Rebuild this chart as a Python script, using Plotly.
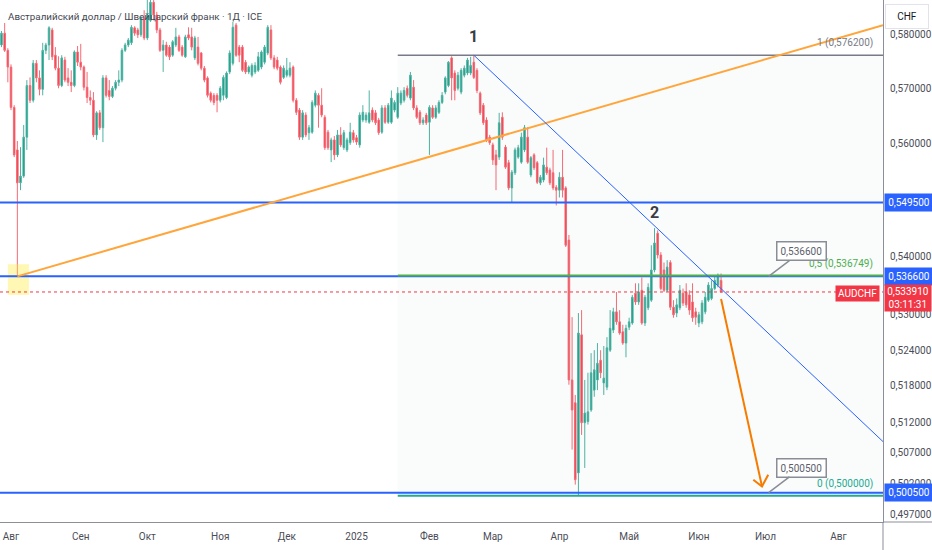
import math
import pandas as pd
import plotly.graph_objects as go

# ---------------- data (daily AUDCHF candles) ----------------
start_date = "2024-07-29"

opens = [
    .5781, .5803, .5771, .5740, .5666, .5589, .5530, .5542, .5612, .5706,
    .5679, .5747, .5720, .5699, .5771, .5781, .5809, .5762, .5738, .5706,
    .5753, .5720, .5712, .5706, .5768, .5749, .5740, .5703, .5684, .5679,
    .5616, .5656, .5629, .5720, .5697, .5686, .5701, .5712, .5716, .5771,
    .5781, .5785, .5813, .5809, .5800, .5831, .5794, .5827, .5861, .5837,
    .5809, .5771, .5781, .5777, .5762, .5781, .5796, .5777, .5759, .5800,
    .5796, .5757, .5777, .5766, .5738, .5720, .5692, .5688, .5688, .5679,
    .5688, .5684, .5731, .5747, .5818, .5777, .5777, .5749, .5731, .5725,
    .5731, .5734, .5740, .5749, .5766, .5809, .5757, .5753, .5740, .5721,
    .5725, .5725, .5740, .5679, .5661, .5612, .5652, .5620, .5621, .5670,
    .5688, .5670, .5648, .5621, .5589, .5607, .5580, .5616, .5593, .5589,
    .5602, .5620, .5611, .5598, .5643, .5643, .5639, .5661, .5656, .5643,
    .5621, .5665, .5639, .5639, .5661, .5648, .5674, .5679, .5701, .5683,
    .5703, .5665, .5657, .5638, .5652, .5639, .5665, .5648, .5657, .5675,
    .5694, .5706, .5757, .5729, .5701, .5694, .5725, .5729, .5729, .5749,
    .5734, .5692, .5670, .5643, .5612, .5598, .5580, .5576, .5648, .5594,
    .5566, .5521, .5548, .5576, .5567, .5589, .5612, .5544, .5580, .5566,
    .5530, .5535, .5558, .5553, .5548, .5522, .5517, .5540, .5521, .5429,
    .5190, .5152, .5037, .5266, .5119, .5121, .5140, .5173, .5190, .5223,
    .5185, .5178, .5240, .5274, .5305, .5288, .5271, .5252, .5279, .5286,
    .5337, .5322, .5342, .5286, .5312, .5325, .5377, .5441, .5403, .5377,
    .5342, .5390, .5313, .5303, .5312, .5337, .5339, .5334, .5322, .5305,
    .5286, .5288, .5305, .5325, .5328, .5345, .5351, .5359,
]

highs = [
    .5807, .5822, .5775, .5745, .5670, .5605, .5594, .5634, .5716, .5721,
    .5753, .5753, .5734, .5785, .5785, .5816, .5813, .5777, .5760, .5762,
    .5759, .5738, .5734, .5771, .5779, .5783, .5743, .5731, .5697, .5694,
    .5659, .5661, .5725, .5725, .5716, .5705, .5716, .5734, .5775, .5785,
    .5794, .5818, .5816, .5813, .5835, .5846, .5874, .5880, .5876, .5843,
    .5813, .5790, .5787, .5781, .5790, .5813, .5800, .5781, .5800, .5814,
    .5813, .5798, .5796, .5768, .5742, .5723, .5695, .5692, .5692, .5705,
    .5725, .5732, .5771, .5824, .5822, .5781, .5781, .5753, .5743, .5747,
    .5749, .5768, .5771, .5781, .5818, .5818, .5762, .5759, .5743, .5743,
    .5757, .5749, .5743, .5683, .5665, .5661, .5657, .5634, .5679, .5697,
    .5692, .5701, .5652, .5625, .5611, .5614, .5625, .5630, .5625, .5611,
    .5638, .5625, .5616, .5657, .5670, .5657, .5697, .5666, .5661, .5647,
    .5670, .5670, .5674, .5697, .5679, .5703, .5697, .5703, .5706, .5731,
    .5716, .5670, .5661, .5648, .5656, .5670, .5670, .5670, .5679, .5694,
    .5723, .5751, .5760, .5734, .5731, .5738, .5743, .5757, .5759, .5762,
    .5738, .5695, .5674, .5648, .5616, .5602, .5589, .5656, .5657, .5598,
    .5571, .5553, .5593, .5598, .5620, .5634, .5630, .5578, .5583, .5569,
    .5544, .5575, .5593, .5557, .5589, .5526, .5549, .5589, .5524, .5438,
    .5296, .5165, .5303, .5308, .5190, .5202, .5235, .5240, .5252, .5240,
    .5247, .5262, .5308, .5312, .5339, .5308, .5283, .5283, .5295, .5334,
    .5354, .5354, .5364, .5334, .5354, .5420, .5450, .5446, .5408, .5390,
    .5394, .5394, .5325, .5328, .5351, .5345, .5354, .5342, .5354, .5312,
    .5305, .5325, .5339, .5356, .5359, .5368, .5371, .5371,
]

lows = [
    .5777, .5768, .5712, .5661, .5576, .5366, .5517, .5539, .5589, .5674,
    .5675, .5712, .5688, .5688, .5764, .5753, .5753, .5734, .5701, .5703,
    .5712, .5705, .5694, .5703, .5742, .5734, .5697, .5674, .5670, .5612,
    .5607, .5625, .5603, .5684, .5679, .5683, .5697, .5705, .5712, .5768,
    .5777, .5781, .5798, .5794, .5796, .5790, .5790, .5824, .5827, .5803,
    .5768, .5731, .5759, .5753, .5759, .5777, .5768, .5759, .5757, .5790,
    .5771, .5753, .5743, .5734, .5712, .5684, .5675, .5670, .5657, .5675,
    .5679, .5681, .5727, .5743, .5759, .5749, .5731, .5727, .5727, .5721,
    .5727, .5731, .5736, .5745, .5762, .5753, .5736, .5734, .5708, .5718,
    .5721, .5721, .5675, .5652, .5607, .5607, .5612, .5607, .5618, .5666,
    .5629, .5648, .5589, .5589, .5567, .5571, .5576, .5594, .5589, .5585,
    .5598, .5602, .5598, .5593, .5639, .5638, .5636, .5639, .5634, .5616,
    .5618, .5636, .5636, .5636, .5657, .5645, .5670, .5675, .5684, .5679,
    .5661, .5645, .5634, .5634, .5634, .5580, .5645, .5645, .5654, .5672,
    .5690, .5703, .5679, .5679, .5697, .5690, .5721, .5725, .5725, .5718,
    .5692, .5652, .5634, .5603, .5598, .5562, .5517, .5571, .5607, .5555,
    .5517, .5495, .5544, .5573, .5564, .5585, .5564, .5540, .5553, .5528,
    .5526, .5531, .5544, .5526, .5517, .5490, .5504, .5504, .5417, .5182,
    .5075, .5018, .5000, .5099, .5045, .5116, .5137, .5162, .5173, .5193,
    .5165, .5173, .5237, .5269, .5283, .5266, .5249, .5228, .5274, .5283,
    .5317, .5317, .5283, .5281, .5308, .5322, .5373, .5397, .5342, .5339,
    .5339, .5308, .5295, .5296, .5308, .5315, .5312, .5300, .5288, .5283,
    .5279, .5284, .5301, .5322, .5325, .5342, .5347, .5338,
]

closes = [
    .5803, .5771, .5740, .5666, .5580, .5530, .5542, .5612, .5706, .5679,
    .5747, .5720, .5699, .5771, .5781, .5813, .5759, .5738, .5706, .5757,
    .5716, .5712, .5706, .5768, .5749, .5740, .5703, .5684, .5679, .5616,
    .5656, .5629, .5720, .5688, .5686, .5701, .5712, .5716, .5771, .5781,
    .5790, .5814, .5803, .5800, .5831, .5794, .5837, .5861, .5837, .5809,
    .5771, .5781, .5762, .5759, .5787, .5796, .5771, .5762, .5796, .5794,
    .5777, .5794, .5747, .5738, .5716, .5688, .5679, .5675, .5679, .5701,
    .5721, .5729, .5766, .5814, .5762, .5762, .5734, .5731, .5740, .5743,
    .5743, .5759, .5768, .5777, .5814, .5757, .5740, .5738, .5712, .5738,
    .5734, .5738, .5679, .5657, .5612, .5656, .5616, .5629, .5675, .5692,
    .5670, .5652, .5593, .5593, .5607, .5580, .5616, .5598, .5620, .5607,
    .5621, .5607, .5603, .5652, .5657, .5652, .5656, .5643, .5638, .5620,
    .5665, .5639, .5670, .5683, .5675, .5692, .5692, .5697, .5688, .5725,
    .5665, .5648, .5638, .5643, .5638, .5666, .5648, .5665, .5675, .5688,
    .5720, .5749, .5720, .5697, .5725, .5734, .5738, .5753, .5743, .5721,
    .5697, .5656, .5638, .5607, .5602, .5571, .5562, .5638, .5612, .5558,
    .5521, .5549, .5589, .5593, .5612, .5629, .5567, .5575, .5557, .5531,
    .5540, .5562, .5548, .5530, .5521, .5517, .5540, .5517, .5420, .5190,
    .5140, .5026, .5269, .5119, .5135, .5137, .5202, .5207, .5218, .5202,
    .5193, .5244, .5277, .5305, .5288, .5269, .5252, .5277, .5288, .5330,
    .5322, .5339, .5286, .5330, .5347, .5377, .5424, .5403, .5345, .5342,
    .5382, .5313, .5300, .5317, .5342, .5320, .5317, .5308, .5295, .5296,
    .5300, .5320, .5330, .5351, .5345, .5359, .5368, .53391,
]

assert len(opens) == len(highs) == len(lows) == len(closes)

# x axis: month ticks
month_ticks = ["2024-08-01", "2024-09-02", "2024-10-01", "2024-11-01", "2024-12-02",
               "2025-01-01", "2025-02-03", "2025-03-03", "2025-04-01", "2025-05-01",
               "2025-06-02", "2025-07-01", "2025-08-01"]
month_labels = ["Авг", "Сен", "Окт", "Ноя", "Дек", "2025", "Фев", "Мар", "Апр",
                "Май", "Июн", "Июл", "Авг"]
x_start = "2024-07-26 12:40"
x_end = "2025-08-21 02:00"

# y axis: price ticks (0,550000 is hidden under the 0,549500 label in the reference)
price_ticks = [0.580, 0.570, 0.560, 0.540, 0.530, 0.524, 0.518, 0.512, 0.507, 0.502, 0.497]
price_tick_labels = ["0,580000", "0,570000", "0,560000", "0,540000", "0,530000",
                     "0,524000", "0,518000", "0,512000", "0,507000", "0,502000", "0,497000"]
y_low, y_high = 0.4958, 0.58653

# drawings
level_lines = [0.5495, 0.5366, 0.5005]
level_labels = ["0,549500", "0,536600", "0,500500"]
fib_levels = [0.5762, 0.536749, 0.5]
fib_labels = ["1 (0,576200)", "0,5 (0,536749)", "0 (0,500000)"]
fib_colors = ["#787b86", "#4caf50", "#22ab94"]
fib_start = "2025-01-20"
last_price = 0.53391
last_price_label = "0,533910"
countdown = "03:11:31"
symbol = "AUDCHF"
title_text = "Австралийский доллар / Швейцарский франк · 1Д · ICE"

orange_trend_x = ["2024-08-05", x_end]
orange_trend_y = [0.5366, 0.5818]
blue_trend_y = [0.5762, 0.5088]
arrow_x = ["2025-06-11", "2025-06-27 22:00"]
arrow_y = [0.5327, 0.5015]
arrowhead_x = ["2025-06-25 04:00", "2025-06-27 22:00", "2025-07-01 21:00"]
arrowhead_y = [0.5026, 0.5015, 0.5034]
highlight_x = ["2024-07-31", "2024-08-08 16:00"]
highlight_y = [0.5334, 0.5387]
callout_date = "2025-07-02"
callouts = [(0.5366, "0,536600"), (0.5005, "0,500500")]

# ---------------- figure ----------------
dates = pd.bdate_range(start_date, periods=len(closes))
FONT = "Roboto, sans-serif"
L10 = math.log10

fig = go.Figure()

# fib background
fig.add_trace(go.Scatter(
    x=[fib_start, x_end, x_end, fib_start, fib_start],
    y=[fib_levels[0], fib_levels[0], fib_levels[2], fib_levels[2], fib_levels[0]],
    mode="lines", fill="toself", fillcolor="rgba(120,140,150,0.035)",
    line=dict(width=0), hoverinfo="skip"))

fig.add_trace(go.Candlestick(
    x=dates, open=opens, high=highs, low=lows, close=closes,
    increasing=dict(line=dict(color="#4fb3a3", width=1), fillcolor="#089981"),
    decreasing=dict(line=dict(color="#f56b76", width=1), fillcolor="#f23645"),
    whiskerwidth=0, hoverinfo="skip"))

# highlight box
fig.add_trace(go.Scatter(
    x=[highlight_x[0], highlight_x[1], highlight_x[1], highlight_x[0], highlight_x[0]],
    y=[highlight_y[0], highlight_y[0], highlight_y[1], highlight_y[1], highlight_y[0]],
    mode="lines", fill="toself", fillcolor="rgba(255,235,59,0.38)",
    line=dict(width=0), hoverinfo="skip"))

# last price dotted line
fig.add_trace(go.Scatter(x=[x_start, x_end], y=[last_price, last_price], mode="lines",
                         line=dict(color="#f23645", width=1, dash="dot"), hoverinfo="skip"))

# horizontal levels
for lv in level_lines:
    fig.add_trace(go.Scatter(x=[x_start, x_end], y=[lv, lv], mode="lines",
                             line=dict(color="#2962ff", width=2), hoverinfo="skip"))

# fib lines
for lv, col in zip(fib_levels, fib_colors):
    fig.add_trace(go.Scatter(x=[fib_start, x_end], y=[lv, lv], mode="lines",
                             line=dict(color=col, width=2 if col != "#787b86" else 1.5),
                             hoverinfo="skip"))

# trend lines
fig.add_trace(go.Scatter(x=orange_trend_x, y=orange_trend_y, mode="lines",
                         line=dict(color="#ffa53a", width=2), hoverinfo="skip"))
fig.add_trace(go.Scatter(x=[dates[149], x_end], y=blue_trend_y, mode="lines",
                         line=dict(color="#2962ff", width=1), hoverinfo="skip"))

# orange arrow
fig.add_trace(go.Scatter(x=arrow_x, y=arrow_y, mode="lines",
                         line=dict(color="#f57c00", width=2), hoverinfo="skip"))
fig.add_trace(go.Scatter(x=arrowhead_x, y=arrowhead_y, mode="lines",
                         line=dict(color="#f57c00", width=2), hoverinfo="skip"))

annotations = []

# title
annotations.append(dict(xref="paper", yref="paper", x=0.0068, y=0.9693, xanchor="left",
                        yanchor="middle", text=title_text, showarrow=False,
                        font=dict(family=FONT, size=9.8, color="#434651")))
# wave labels
annotations.append(dict(x=dates[149], y=L10(highs[149]), yshift=19, text="<b>1</b>",
                        showarrow=False, font=dict(family=FONT, size=16, color="#3a3d45")))
annotations.append(dict(x=dates[206], y=L10(highs[206]), yshift=16, text="<b>2</b>",
                        showarrow=False, font=dict(family=FONT, size=16, color="#3a3d45")))
# fib labels
for lv, txt, col in zip(fib_levels, fib_labels, fib_colors):
    annotations.append(dict(xref="paper", x=875 / 883, y=L10(lv), yshift=12, xanchor="right",
                            yanchor="middle", text=txt, showarrow=False,
                            font=dict(family=FONT, size=10, color=col)))
# callouts
for lv, txt in callouts:
    annotations.append(dict(x=callout_date, y=L10(lv), ax=33, ay=-25, text=txt,
                            showarrow=True, arrowhead=0, arrowwidth=1.5, arrowcolor="#8a8d96",
                            bordercolor="#8a8d96", borderwidth=1.5, borderpad=3,
                            bgcolor="white", font=dict(family=FONT, size=10, color="#5d606b")))
# price-scale labels
for lv, txt in zip(level_lines, level_labels):
    annotations.append(dict(xref="paper", x=1, xshift=1, y=L10(lv), xanchor="left",
                            yanchor="middle", text=txt, showarrow=False, width=44,
                            height=13, borderpad=2, bgcolor="#2962ff",
                            font=dict(family=FONT, size=10, color="white")))
annotations.append(dict(xref="paper", x=1, xshift=1, y=L10(last_price), yshift=8,
                        xanchor="left", yanchor="top",
                        text=last_price_label + "<br>" + countdown, showarrow=False,
                        width=44, height=24, borderpad=1, bgcolor="#f23645",
                        font=dict(family=FONT, size=10, color="white")))
annotations.append(dict(xref="paper", x=880 / 883, y=L10(last_price), yshift=-2,
                        xanchor="right", yanchor="middle", text=symbol, showarrow=False,
                        borderpad=2, bgcolor="#f23645",
                        font=dict(family=FONT, size=10, color="white")))
annotations.append(dict(xref="paper", yref="paper", x=1.0272, y=0.968, xanchor="center",
                        yanchor="middle", text="CHF", showarrow=False, width=36, height=17,
                        borderpad=3, bgcolor="white", bordercolor="#e0e3eb", borderwidth=1,
                        font=dict(family=FONT, size=10, color="#131722")))

fig.update_layout(
    width=932, height=550, autosize=False,
    margin=dict(l=0, r=49, t=0, b=28),
    paper_bgcolor="white", plot_bgcolor="white",
    showlegend=False,
    annotations=annotations,
    shapes=[
        dict(type="line", xref="paper", yref="paper", x0=1, x1=1, y0=0, y1=-28 / 522,
             line=dict(color="#8c8f99", width=1)),
        dict(type="line", xref="paper", yref="paper", x0=1, x1=1 + 49 / 883, y0=0, y1=0,
             line=dict(color="#8c8f99", width=1)),
    ],
    xaxis=dict(
        type="date", range=[x_start, x_end],
        rangebreaks=[dict(bounds=["sat", "mon"])],
        rangeslider=dict(visible=False),
        showgrid=False, zeroline=False, showline=True, linecolor="#8c8f99", linewidth=1,
        ticks="", tickvals=month_ticks, ticktext=month_labels, ticklabelstandoff=5,
        tickfont=dict(family=FONT, size=10, color="#4a4d57"),
    ),
    yaxis=dict(
        type="log", range=[L10(y_low), L10(y_high)], side="right",
        showgrid=False, zeroline=False, showline=True, linecolor="#8c8f99", linewidth=1,
        ticks="", tickvals=price_ticks, ticktext=price_tick_labels, ticklabelstandoff=4,
        tickfont=dict(family=FONT, size=10, color="#4a4d57"),
    ),
)

fig.write_html("out.html", config={"displayModeBar": False},
               post_script="document.body.style.margin='0';document.body.style.padding='0';")
